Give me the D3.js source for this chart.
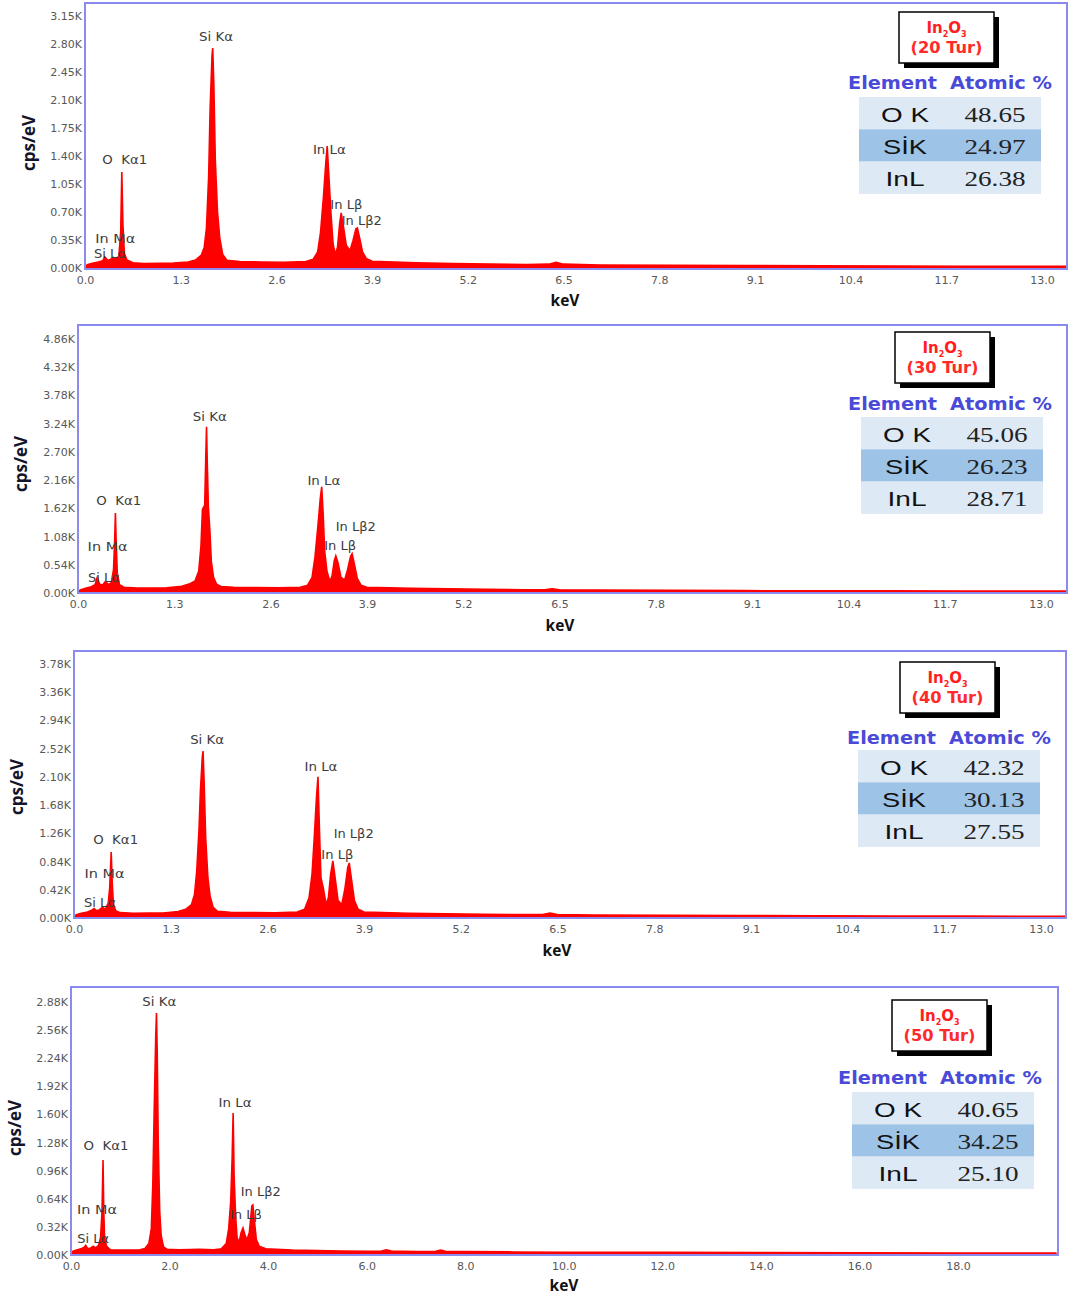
<!DOCTYPE html>
<html><head><meta charset="utf-8">
<script src="https://cdn.jsdelivr.net/npm/d3@7"></script>
<style>body{margin:0;background:#fff}svg{display:block}</style>
</head><body>
<svg id="chart" width="1069" height="1296"></svg>
<script>
// ---------- DATA ----------
const samples = ["20 Tur", "30 Tur", "40 Tur", "50 Tur"];
const elements = ["O K", "SİK", "InL"];
const atomic20 = [48.65, 24.97, 26.38];
const atomic30 = [45.06, 26.23, 28.71];
const atomic40 = [42.32, 30.13, 27.55];
const atomic50 = [40.65, 34.25, 25.10];

const energyTicks13 = [0, 1.3, 2.6, 3.9, 5.2, 6.5, 7.8, 9.1, 10.4, 11.7, 13.0];
const energyTicks20 = [0, 2, 4, 6, 8, 10, 12, 14, 16, 18];
const cpsTicks20 = [0, 350, 700, 1050, 1400, 1750, 2100, 2450, 2800, 3150];
const cpsTicks30 = [0, 540, 1080, 1620, 2160, 2700, 3240, 3780, 4320, 4860];
const cpsTicks40 = [0, 420, 840, 1260, 1680, 2100, 2520, 2940, 3360, 3780];
const cpsTicks50 = [0, 320, 640, 960, 1280, 1600, 1920, 2240, 2560, 2880];

const peakNames = ["Si Kα", "O  Kα1", "In Lα", "In Lβ", "In Lβ2", "In Mα", "Si Lα"];
// label anchor [keV, cps] for each peak name, per sample
const labels20 = [[1.78, 2888], [0.54, 1350], [3.32, 1475], [3.55, 788], [3.76, 588], [0.41, 363], [0.34, 175]];
const labels30 = [[1.78, 3367], [0.55, 1760], [3.32, 2143], [3.54, 899], [3.75, 1263], [0.40, 880], [0.35, 287]];
const labels40 = [[1.79, 2649], [0.56, 1161], [3.32, 2247], [3.54, 937], [3.76, 1250], [0.41, 655], [0.35, 223]];
const labels50 = [[1.79, 2879], [0.71, 1240], [3.33, 1730], [3.55, 455], [3.85, 717], [0.53, 512], [0.45, 182]];

// spectra [keV, cps/eV]
const spectrum20 = [[0,0],[0.03,40],[0.1,60],[0.18,75],[0.24,90],[0.27,140],[0.31,95],[0.35,110],[0.38,135],[0.42,110],[0.46,150],[0.485,450],[0.50,1200],[0.515,550],[0.535,180],[0.57,100],[0.65,65],[0.8,55],[1.0,58],[1.2,62],[1.4,75],[1.5,100],[1.58,160],[1.62,260],[1.65,500],[1.68,1150],[1.70,2000],[1.725,2650],[1.735,2750],[1.75,2300],[1.77,1350],[1.80,700],[1.83,380],[1.87,170],[1.93,95],[2.1,80],[2.4,75],[2.7,72],[3.0,80],[3.1,110],[3.16,200],[3.2,450],[3.24,900],[3.27,1300],[3.29,1525],[3.31,1200],[3.34,700],[3.37,300],[3.40,170],[3.43,260],[3.46,560],[3.48,690],[3.51,520],[3.55,280],[3.60,220],[3.64,340],[3.68,490],[3.70,500],[3.73,380],[3.77,200],[3.82,120],[3.9,85],[4.5,65],[5.0,55],[5.5,48],[6.0,42],[6.3,48],[6.4,70],[6.5,48],[7.0,38],[8.0,33],[9.0,30],[10.0,27],[11.0,25],[12.0,22],[13.0,20],[13.4,20]];
const spectrum30 = [[0,0],[0.03,60],[0.1,90],[0.18,120],[0.23,160],[0.26,300],[0.29,170],[0.33,150],[0.37,220],[0.41,160],[0.45,200],[0.48,450],[0.495,1000],[0.505,1530],[0.515,1000],[0.53,380],[0.56,160],[0.62,110],[0.8,95],[1.0,95],[1.2,100],[1.4,130],[1.5,170],[1.58,230],[1.63,420],[1.66,900],[1.68,1600],[1.71,1680],[1.725,2600],[1.735,3180],[1.745,2500],[1.76,1650],[1.78,1200],[1.80,600],[1.83,300],[1.87,170],[1.93,125],[2.1,110],[2.4,105],[2.7,100],[3.0,110],[3.1,150],[3.16,300],[3.2,700],[3.24,1300],[3.27,1800],[3.29,2030],[3.31,1500],[3.33,800],[3.36,420],[3.40,220],[3.43,330],[3.46,620],[3.48,710],[3.51,580],[3.55,300],[3.60,250],[3.64,450],[3.68,700],[3.70,750],[3.73,560],[3.77,280],[3.82,150],[3.9,110],[4.5,90],[5.0,80],[5.5,70],[6.0,62],[6.3,62],[6.4,80],[6.5,62],[7.0,55],[8.0,50],[9.0,45],[10.0,42],[11.0,40],[12.0,38],[13.0,36],[13.4,35]];
const spectrum40 = [[0,0],[0.03,50],[0.1,70],[0.18,90],[0.23,110],[0.27,140],[0.3,110],[0.34,120],[0.38,160],[0.42,130],[0.46,220],[0.48,450],[0.50,980],[0.515,500],[0.53,200],[0.56,110],[0.62,80],[0.8,70],[1.0,72],[1.2,75],[1.4,95],[1.5,130],[1.58,200],[1.62,350],[1.65,700],[1.68,1300],[1.70,1900],[1.725,2400],[1.735,2485],[1.75,2000],[1.77,1200],[1.80,600],[1.83,320],[1.87,160],[1.93,100],[2.1,85],[2.4,80],[2.7,78],[3.0,90],[3.1,130],[3.16,300],[3.2,650],[3.23,1200],[3.26,1800],[3.28,2100],[3.30,1300],[3.32,600],[3.35,450],[3.39,200],[3.42,300],[3.45,650],[3.48,850],[3.51,600],[3.55,260],[3.60,200],[3.64,420],[3.68,750],[3.70,820],[3.73,580],[3.77,260],[3.82,130],[3.9,90],[4.5,70],[5.0,62],[5.5,55],[6.0,50],[6.3,52],[6.4,72],[6.5,52],[7.0,45],[8.0,40],[9.0,36],[10.0,33],[11.0,30],[12.0,28],[13.0,26],[13.4,25]];
const spectrum50 = [[0,0],[0.03,40],[0.1,55],[0.2,70],[0.27,90],[0.3,110],[0.34,70],[0.4,80],[0.45,100],[0.5,80],[0.56,110],[0.6,200],[0.63,500],[0.65,1080],[0.665,500],[0.68,220],[0.72,100],[0.8,60],[1.0,55],[1.2,55],[1.4,60],[1.5,75],[1.58,130],[1.63,300],[1.66,800],[1.69,1700],[1.72,2500],[1.735,2755],[1.75,2300],[1.77,1300],[1.80,500],[1.83,220],[1.88,90],[1.95,65],[2.2,60],[2.6,65],[2.9,60],[3.05,70],[3.15,130],[3.2,300],[3.24,600],[3.27,1100],[3.29,1616],[3.31,900],[3.34,450],[3.37,200],[3.41,140],[3.45,250],[3.49,307],[3.53,230],[3.57,170],[3.62,260],[3.67,560],[3.69,570],[3.72,400],[3.76,180],[3.82,100],[3.95,70],[4.5,55],[5.0,50],[5.5,45],[6.0,42],[6.3,45],[6.4,60],[6.5,45],[7.0,40],[7.4,42],[7.5,55],[7.6,42],[8.0,38],[9.0,35],[10.0,32],[12.0,30],[14.0,27],[16.0,25],[18.0,23],[20.0,22]];

// ---------- LAYOUT / STYLE ----------
const layout = [
  {left:85, top:3,   right:1067, bottom:269,  x0:85, x1:1042, y0:268,  y1:16,   boxX:899, boxY:12,   hdrX:848, hdrY:82,   tblX:859, tblY:97,   yLabX:28, yLabY:143,  keVX:565, keVY:300},
  {left:78, top:325, right:1067, bottom:593,  x0:78, x1:1041, y0:593,  y1:339,  boxX:895, boxY:332,  hdrX:848, hdrY:403,  tblX:861, tblY:417,  yLabX:20, yLabY:464,  keVX:560, keVY:625},
  {left:74, top:651, right:1066, bottom:918,  x0:74, x1:1041, y0:918,  y1:664,  boxX:900, boxY:662,  hdrX:847, hdrY:737,  tblX:858, tblY:750,  yLabX:16, yLabY:787,  keVX:557, keVY:950},
  {left:71, top:987, right:1058, bottom:1255, x0:71, x1:958,  y0:1255, y1:1002, boxX:892, boxY:1000, hdrX:838, hdrY:1077, tblX:852, tblY:1092, yLabX:14, yLabY:1128, keVX:564, keVY:1285}
];
const labelWidths = {"Si Kα":34, "O  Kα1":45, "In Lα":33, "In Lβ":32, "In Lβ2":40, "In Mα":40, "Si Lα":32};
const elemWidths = [48, 44, 39];

const panels = [
  {sample: samples[0], spectrum: spectrum20, yTicks: cpsTicks20, xTicks: energyTicks13, atomic: atomic20, labels: labels20},
  {sample: samples[1], spectrum: spectrum30, yTicks: cpsTicks30, xTicks: energyTicks13, atomic: atomic30, labels: labels30},
  {sample: samples[2], spectrum: spectrum40, yTicks: cpsTicks40, xTicks: energyTicks13, atomic: atomic40, labels: labels40},
  {sample: samples[3], spectrum: spectrum50, yTicks: cpsTicks50, xTicks: energyTicks20, atomic: atomic50, labels: labels50}
];

const svg = d3.select("#chart");
const frameColor = "#8b8bef";
const red = "#ff0000";
const serif = "'Liberation Serif', 'DejaVu Serif', 'Times New Roman', serif";

panels.forEach((p, i) => {
  const L = layout[i];
  const g = svg.append("g");
  const xt = p.xTicks, yt = p.yTicks;
  const x = d3.scaleLinear().domain([xt[0], xt[xt.length - 1]]).range([L.x0, L.x1]);
  const y = d3.scaleLinear().domain([yt[0], yt[yt.length - 1]]).range([L.y0, L.y1]);

  const clipId = "clip" + i;
  svg.append("clipPath").attr("id", clipId).append("rect")
    .attr("x", L.left).attr("y", L.top).attr("width", L.right - L.left).attr("height", L.bottom - L.top);

  // spectrum
  const area = d3.area().x(d => x(d[0])).y0(y(0)).y1(d => y(d[1])).curve(d3.curveLinear);
  const line = d3.line().x(d => x(d[0])).y(d => y(d[1])).curve(d3.curveLinear);
  const sg = g.append("g").attr("clip-path", `url(#${clipId})`);
  sg.append("path").datum(p.spectrum).attr("d", area).attr("fill", red);
  sg.append("path").datum(p.spectrum).attr("d", line).attr("fill", "none").attr("stroke", red).attr("stroke-width", 1.6);

  // frame
  g.append("rect").attr("x", L.left).attr("y", L.top).attr("width", L.right - L.left).attr("height", L.bottom - L.top)
    .attr("fill", "none").attr("stroke", frameColor).attr("stroke-width", 2);

  // axes
  const yAxis = d3.axisLeft(y).tickValues(yt).tickSize(0).tickPadding(3)
    .tickFormat(d => (d / 1000).toFixed(2) + "K");
  const ya = g.append("g").attr("transform", `translate(${L.left},0)`).call(yAxis);
  ya.select(".domain").remove();
  ya.selectAll("text").attr("font-family", "DejaVu Sans").attr("font-size", 11).attr("fill", "#585858");

  const xAxis = d3.axisBottom(x).tickValues(xt).tickSize(0).tickPadding(7).tickFormat(d3.format(".1f"));
  const xa = g.append("g").attr("transform", `translate(0,${L.bottom})`).call(xAxis);
  xa.select(".domain").remove();
  xa.selectAll("text").attr("font-family", "DejaVu Sans").attr("font-size", 11).attr("fill", "#585858");

  // axis titles
  g.append("text").attr("x", L.keVX).attr("y", L.keVY).attr("text-anchor", "middle").attr("dominant-baseline", "central")
    .attr("font-family", "Open Sans").attr("font-weight", 700).attr("font-size", 15.5).attr("fill", "#111").text("keV");
  g.append("text").attr("transform", `translate(${L.yLabX},${L.yLabY}) rotate(-90)`).attr("text-anchor", "middle")
    .attr("dominant-baseline", "central").attr("font-family", "Open Sans").attr("font-weight", 700)
    .attr("font-size", 17).attr("fill", "#14142a").text("cps/eV");

  // peak labels
  peakNames.forEach((name, k) => {
    const pos = p.labels[k];
    g.append("text").attr("x", x(pos[0])).attr("y", y(pos[1])).attr("text-anchor", "middle")
      .attr("dominant-baseline", "central").attr("font-family", "DejaVu Sans").attr("font-size", 11.5)
      .attr("fill", "#3c3c3c").style("white-space", "pre")
      .attr("textLength", labelWidths[name]).attr("lengthAdjust", "spacingAndGlyphs").text(name);
  });

  // sample box
  const bw = 95, bh = 51;
  g.append("rect").attr("x", L.boxX + 5).attr("y", L.boxY + 5).attr("width", bw).attr("height", bh).attr("fill", "#000");
  g.append("rect").attr("x", L.boxX).attr("y", L.boxY).attr("width", bw).attr("height", bh)
    .attr("fill", "#fff").attr("stroke", "#000").attr("stroke-width", 1.5);
  const f = g.append("text").attr("x", L.boxX + bw / 2).attr("y", L.boxY + 21).attr("text-anchor", "middle")
    .attr("font-family", "DejaVu Sans").attr("font-weight", 700).attr("font-size", 15).attr("fill", "#ff1e1e");
  f.append("tspan").text("In");
  f.append("tspan").attr("font-size", 8).attr("dy", 4).text("2");
  f.append("tspan").attr("dy", -4).text("O");
  f.append("tspan").attr("font-size", 8).attr("dy", 4).text("3");
  g.append("text").attr("x", L.boxX + bw / 2).attr("y", L.boxY + 41).attr("text-anchor", "middle")
    .attr("font-family", "DejaVu Sans").attr("font-weight", 600).attr("font-size", 15).attr("fill", "#ff2a2a")
    .attr("textLength", 72).attr("lengthAdjust", "spacingAndGlyphs").text("(" + p.sample + ")");

  // header
  const hdrColor = "#4a4ad8";
  g.append("text").attr("x", L.hdrX).attr("y", L.hdrY).attr("dominant-baseline", "central")
    .attr("font-family", "DejaVu Sans").attr("font-weight", 700).attr("font-size", 18).attr("fill", hdrColor)
    .attr("textLength", 89).attr("lengthAdjust", "spacingAndGlyphs").text("Element");
  g.append("text").attr("x", L.hdrX + 102).attr("y", L.hdrY).attr("dominant-baseline", "central")
    .attr("font-family", "DejaVu Sans").attr("font-weight", 700).attr("font-size", 18).attr("fill", hdrColor)
    .attr("textLength", 102).attr("lengthAdjust", "spacingAndGlyphs").text("Atomic %");

  // table
  const rowH = 32.3, tw = 182;
  elements.forEach((el, r) => {
    const ry = L.tblY + r * rowH;
    g.append("rect").attr("x", L.tblX).attr("y", ry).attr("width", tw).attr("height", rowH)
      .attr("fill", r === 1 ? "#9dc3e6" : "#dde9f5");
    g.append("text").attr("x", L.tblX + 46).attr("y", ry + rowH / 2 + 1).attr("text-anchor", "middle")
      .attr("dominant-baseline", "central").attr("font-family", "'Liberation Sans', Arial, sans-serif").attr("font-size", 21)
      .attr("fill", "#111").attr("textLength", elemWidths[r]).attr("lengthAdjust", "spacingAndGlyphs").text(el);
    g.append("text").attr("x", L.tblX + 136).attr("y", ry + rowH / 2 + 1).attr("text-anchor", "middle")
      .attr("dominant-baseline", "central").style("font-family", serif).attr("font-size", 22)
      .attr("fill", "#222").attr("textLength", 61).attr("lengthAdjust", "spacingAndGlyphs").text(p.atomic[r].toFixed(2));
  });
});
</script>
</body></html>
